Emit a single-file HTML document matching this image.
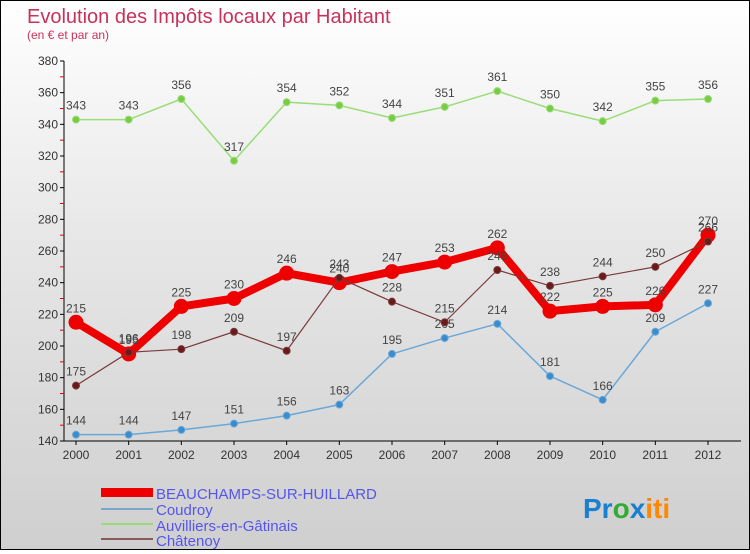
<!DOCTYPE html>
<html><head><meta charset="utf-8"><style>
body{margin:0;width:750px;height:550px;overflow:hidden;font-family:"Liberation Sans",sans-serif}
#wrap{position:relative;width:748px;height:548px;border:1px solid #000;background:linear-gradient(#fff 0%,#e6e6e6 45%,#cfcfcf 100%)}
</style></head><body>
<div id="wrap">
<svg id="svg" width="748" height="548" xmlns="http://www.w3.org/2000/svg">
<text x="26" y="22" font-size="20" fill="#c8325a">Evolution des Impôts locaux par Habitant</text>
<text x="26" y="38" font-size="12" fill="#c8325a">(en € et par an)</text>
<g id="plot"></g>
<g>
<rect x="100" y="487" width="52" height="9" fill="#e00"/>
<text x="155" y="498" font-size="15" fill="#5555ee">BEAUCHAMPS-SUR-HUILLARD</text>
<rect x="100" y="507" width="52" height="2" fill="#7aa8cc"/>
<text x="155" y="514" font-size="15" fill="#5555ee">Coudroy</text>
<rect x="100" y="522" width="52" height="2" fill="#99dd77"/>
<text x="155" y="530" font-size="15" fill="#5555ee">Auvilliers-en-Gâtinais</text>
<rect x="100" y="537" width="52" height="2" fill="#8a5a5a"/>
<text x="155" y="545" font-size="15" fill="#5555ee">Châtenoy</text>
</g>
<text x="582" y="517" font-size="28" font-weight="bold"><tspan fill="#1b7fd0">Pr</tspan><tspan fill="#33aa33">o</tspan><tspan fill="#1b7fd0">x</tspan><tspan fill="#ff8800">iti</tspan></text>
</svg></div>
<script>
const years=[2000,2001,2002,2003,2004,2005,2006,2007,2008,2009,2010,2011,2012];
const yTicks=[140,160,180,200,220,240,260,280,300,320,340,360,380];
const beauchamps=[215,195,225,230,246,240,247,253,262,222,225,226,270];
const coudroy=[144,144,147,151,156,163,195,205,214,181,166,209,227];
const auvilliers=[343,343,356,317,354,352,344,351,361,350,342,355,356];
const chatenoy=[175,196,198,209,197,243,228,215,248,238,244,250,266];
const NS="http://www.w3.org/2000/svg";
const g=document.getElementById('plot');
const x0=75,x1=707,yMin=140,yMax=380,py0=440,py1=60;
const X=i=>x0+(x1-x0)*i/(years.length-1);
const Y=v=>py0-(v-yMin)/(yMax-yMin)*(py0-py1);
function mk(t,a){const e=document.createElementNS(NS,t);for(const k in a)e.setAttribute(k,a[k]);g.appendChild(e);return e;}
let e=mk('line',{x1:63,y1:py1,x2:63,y2:py0,stroke:'#000'});


e=mk('line',{x1:63,y1:py0,x2:740,y2:py0,stroke:'#000'});


yTicks.forEach((v,i)=>{
 let t=mk('line',{x1:59,x2:63,y1:Y(v),y2:Y(v),stroke:'#000'});
 
 
 if(i<yTicks.length-1){let m=mk('line',{x1:59,x2:63,y1:Y(v+10),y2:Y(v+10),stroke:'#e00'});
 
 }
 let l=mk('text',{x:57,y:Y(v)+4,'text-anchor':'end','font-size':12,fill:'#333'});l.textContent=v;
 
 
});
years.forEach((yr,i)=>{
 let t=mk('line',{x1:X(i),x2:X(i),y1:py0,y2:py0+4,stroke:'#000'});
 
 
 let l=mk('text',{x:X(i),y:py0+18,'text-anchor':'middle','font-size':12,fill:'#333'});l.textContent=yr;
 
 
});
function series(name,data,color,w,r,dot){
 let p=mk('polyline',{points:data.map((v,i)=>X(i)+','+Y(v)).join(' '),fill:'none',stroke:color,'stroke-width':w,'stroke-linejoin':'round'});
 
 
 data.forEach((v,i)=>{
  let c=mk('circle',{cx:X(i),cy:Y(v),r:r,fill:dot,stroke:color,'stroke-width':1});
  
  
  let l=mk('text',{x:X(i),y:Y(v)-10,'text-anchor':'middle','font-size':12,fill:'#444'});l.textContent=v;
  
  
 });
}
series('auvilliers',auvilliers,'#99dd77',1.5,3.5,'#77cc44');
series('coudroy',coudroy,'#6aa8d8',1.5,3.5,'#3a8ccc');
series('beauchamps',beauchamps,'#ee0000',8,7,'#ee0000');
series('chatenoy',chatenoy,'#7a3a3a',1.2,3.5,'#6a1a1a');
</script>
</body></html>
